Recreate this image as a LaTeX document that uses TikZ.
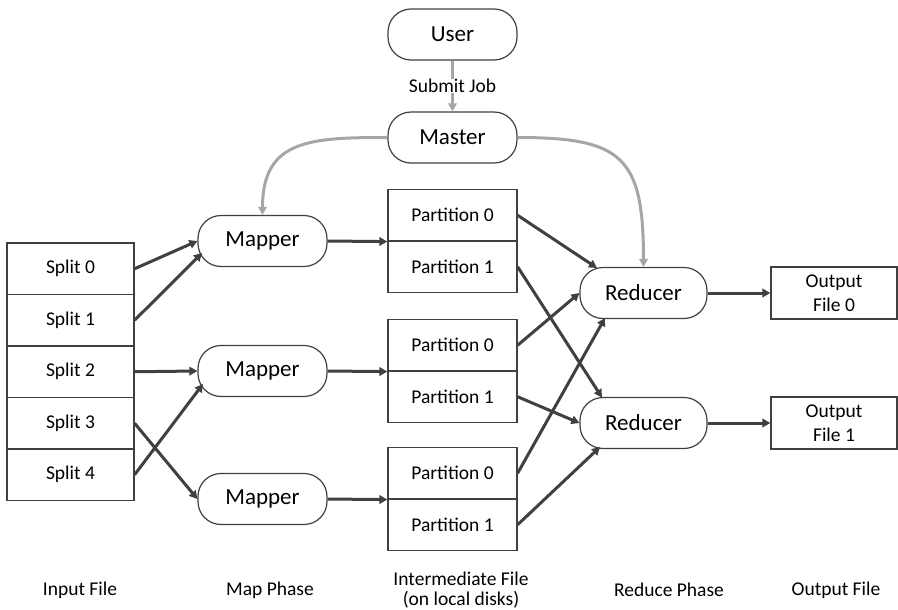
\documentclass[tikz,border=0pt]{standalone}
\usepackage{fontspec}
\setmainfont{Carlito}
\usetikzlibrary{arrows.meta,calc}
\definecolor{bord}{HTML}{404040}
\definecolor{arr}{HTML}{404040}
\definecolor{garr}{HTML}{A6A6A6}
\begin{document}
\begin{tikzpicture}[x=1pt,y=-1pt,
  term/.style={draw=bord, line width=1.2pt, rectangle, rounded corners=23pt,
    minimum width=129pt, minimum height=51pt, inner sep=0pt,
    font=\fontsize{23}{26}\selectfont},
  cell/.style={draw=bord, line width=1.2pt, rectangle, minimum width=127pt,
    minimum height=51.5pt, inner sep=0pt, align=center,
    font=\fontsize{19.5}{23.5}\selectfont},
  pcell/.style={cell, minimum width=129pt},
  flow/.style={draw=arr, line width=3pt, -{Triangle[length=8pt,width=8.5pt]}},
  ctrl/.style={draw=garr, line width=3pt, -{Triangle[length=8pt,width=8.5pt]}},
  lbl/.style={font=\fontsize{19.5}{20}\selectfont, align=center, inner sep=0pt}]
\useasboundingbox (0,0) rectangle (898,610);

% top
\node[term] (U) at (452.5,34.5) {User};
\node[term] (M) at (452.5,137.5) {Master};

% splits
\node[cell] (s0) at (70.5,268.75) {Split 0};
\node[cell] (s1) at (70.5,320.25) {Split 1};
\node[cell] (s2) at (70.5,371.75) {Split 2};
\node[cell] (s3) at (70.5,423.25) {Split 3};
\node[cell] (s4) at (70.5,474.75) {Split 4};

% mappers
\node[term] (m1) at (262.5,241) {Mapper};
\node[term] (m2) at (262.5,371) {Mapper};
\node[term] (m3) at (262.5,499) {Mapper};

% partitions
\node[pcell] (a0) at (452.5,215.25) {Partition 0};
\node[pcell] (a1) at (452.5,266.75) {Partition 1};
\node[pcell] (b0) at (452.5,345.25) {Partition 0};
\node[pcell] (b1) at (452.5,396.75) {Partition 1};
\node[pcell] (c0) at (452.5,473.25) {Partition 0};
\node[pcell] (c1) at (452.5,524.75) {Partition 1};

% reducers
\node[term, minimum width=127pt] (r1) at (643.5,293) {Reducer};
\node[term, minimum width=127pt] (r2) at (643.5,423) {Reducer};

% outputs
\node[cell, minimum width=126pt, minimum height=52pt] (o0) at (834,293) {Output\\File 0};
\node[cell, minimum width=126pt, minimum height=52pt] (o1) at (834,423) {Output\\File 1};

% bottom labels
\node[lbl] (l1) at (80,590) {Input File};
\node[lbl] (l2) at (270,590) {Map Phase};
\node[lbl] (l3) at (461,590) {Intermediate File\\(on local disks)};
\node[lbl] (l4) at (669,590) {Reduce Phase};
\node[lbl] (l5) at (836,590) {Output File};

% control arrows
\draw[ctrl] (U.south) -- node[lbl, fill=white] (sj) {Submit Job} (M.north);
\draw[ctrl] (M.west) .. controls ($(M.west)+(-78,0)$) and ($(m1.north)+(0,-75)$) .. (m1.north);
\draw[ctrl] (M.east) .. controls ($(M.east)+(105,0)$) and ($(r1.north)+(0,-110)$) .. (r1.north);

% split -> mapper
\draw[flow] (s0.east) -- (m1.west);
\draw[flow] (s1.east) -- ($(m1.center)+(-60.5,12)$);
\draw[flow] (s2.east) -- (m2.west);
\draw[flow] (s3.east) -- (m3.west);
\draw[flow] (s4.east) -- ($(m2.center)+(-59.5,13)$);

% mapper -> partitions
\draw[flow] (m1.east) -- (a0.south west);
\draw[flow] (m2.east) -- (b0.south west);
\draw[flow] (m3.east) -- (c0.south west);

% partitions -> reducers
\draw[flow] (a0.east) -- ($(r1.center)+(-46.5,-25)$);
\draw[flow] (a1.east) -- ($(r2.center)+(-41.5,-25.5)$);
\draw[flow] (b0.east) -- (r1.west);
\draw[flow] (b1.east) -- (r2.west);
\draw[flow] (c0.east) -- ($(r1.center)+(-38.5,25)$);
\draw[flow] (c1.east) -- ($(r2.center)+(-43.5,24)$);

% reducers -> outputs
\draw[flow] (r1.east) -- (o0.west);
\draw[flow] (r2.east) -- (o1.west);
\end{tikzpicture}
\end{document}
